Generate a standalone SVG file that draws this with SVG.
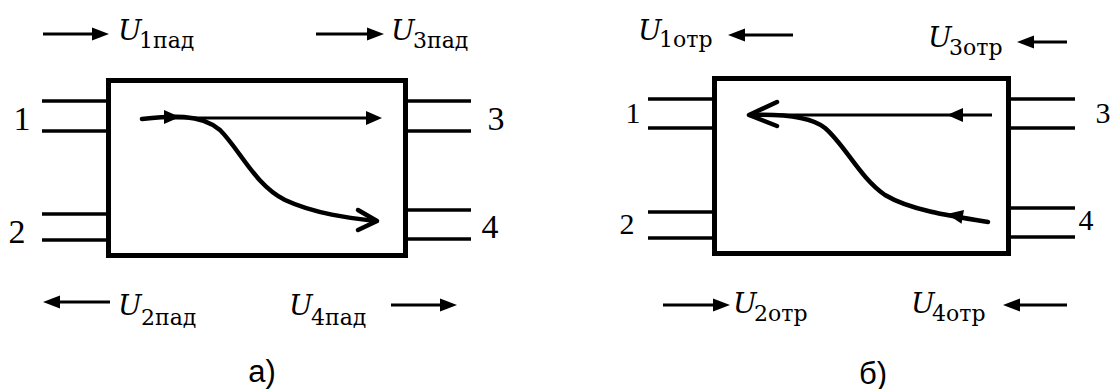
<svg xmlns="http://www.w3.org/2000/svg" xmlns:xlink="http://www.w3.org/1999/xlink" width="1110" height="389" viewBox="0 0 1110 389">
<style>
.box{fill:#fff;stroke:#000;stroke-width:5}
.port{stroke:#000;stroke-width:3.5;fill:none}
.ln{stroke:#000;stroke-width:3.2;fill:none}
.cv{stroke:#000;stroke-width:4.5;fill:none;stroke-linecap:round;stroke-linejoin:round}
.chev{stroke:#000;stroke-width:4.5;fill:none;stroke-linecap:round;stroke-linejoin:round}
.num{font-family:'Liberation Serif',serif;fill:#000;text-anchor:middle}
.u{font-family:'DejaVu Serif',serif;font-style:italic;font-size:28px;fill:#000}
.sub{font-family:'DejaVu Serif',serif;font-style:normal;font-size:22px;fill:#000}
.cap{font-family:'Liberation Sans',sans-serif;font-size:31px;fill:#000;text-anchor:middle}
</style>
<defs>
<path id="ah" d="M0,0 L-17,-6.5 L-17,6.5 Z" fill="#000"/>
<path id="ahs" d="M0,0 L-16,-7 L-16,7 Z" fill="#000"/>
</defs>

<g id="panel-a">
<g id="a-box">
<rect class="box" x="108.5" y="80.5" width="297" height="175"/>
</g>
<g id="a-port1">
<line class="port" x1="42" y1="101" x2="108" y2="101"/>
<line class="port" x1="42" y1="131" x2="108" y2="131"/>
<text class="num" font-family="Liberation Serif, serif" x="22" y="130" font-size="34">1</text>
</g>
<g id="a-port2">
<line class="port" x1="42" y1="214" x2="108" y2="214"/>
<line class="port" x1="42" y1="240" x2="108" y2="240"/>
<text class="num" font-family="Liberation Serif, serif" x="17" y="243" font-size="34">2</text>
</g>
<g id="a-port3">
<line class="port" x1="406" y1="101" x2="471" y2="101"/>
<line class="port" x1="406" y1="131" x2="471" y2="131"/>
<text class="num" font-family="Liberation Serif, serif" x="496" y="130" font-size="34">3</text>
</g>
<g id="a-port4">
<line class="port" x1="406" y1="210" x2="471" y2="210"/>
<line class="port" x1="406" y1="239" x2="471" y2="239"/>
<text class="num" font-family="Liberation Serif, serif" x="490" y="238" font-size="34">4</text>
</g>
<g id="a-U1">
<text class="u" font-family="DejaVu Serif, serif" x="118" y="40">U</text><text class="sub" font-family="DejaVu Serif, serif" x="139" y="48">1пад</text>
</g>
<g id="a-U3">
<text class="u" font-family="DejaVu Serif, serif" x="391" y="40">U</text><text class="sub" font-family="DejaVu Serif, serif" x="413" y="48">3пад</text>
</g>
<g id="a-U2">
<text class="u" font-family="DejaVu Serif, serif" x="118" y="315">U</text><text class="sub" font-family="DejaVu Serif, serif" x="141" y="325">2пад</text>
</g>
<g id="a-U4">
<text class="u" font-family="DejaVu Serif, serif" x="289" y="315">U</text><text class="sub" font-family="DejaVu Serif, serif" x="311" y="325">4пад</text>
</g>
<text class="cap" font-family="Liberation Sans, sans-serif" x="262" y="382">а)</text>
</g>

<g id="panel-b">
<g id="b-box">
<rect class="box" x="714.5" y="78.5" width="294" height="175"/>
</g>
<g id="b-port1">
<line class="port" x1="648" y1="99" x2="714" y2="99"/>
<line class="port" x1="648" y1="128" x2="714" y2="128"/>
<text class="num" font-family="Liberation Serif, serif" x="633" y="123" font-size="30">1</text>
</g>
<g id="b-port2">
<line class="port" x1="648" y1="212" x2="714" y2="212"/>
<line class="port" x1="648" y1="238" x2="714" y2="238"/>
<text class="num" font-family="Liberation Serif, serif" x="627" y="234" font-size="30">2</text>
</g>
<g id="b-port3">
<line class="port" x1="1009" y1="99" x2="1075" y2="99"/>
<line class="port" x1="1009" y1="128" x2="1075" y2="128"/>
<text class="num" font-family="Liberation Serif, serif" x="1103" y="123" font-size="30">3</text>
</g>
<g id="b-port4">
<line class="port" x1="1009" y1="208" x2="1075" y2="208"/>
<line class="port" x1="1009" y1="237" x2="1075" y2="237"/>
<text class="num" font-family="Liberation Serif, serif" x="1086" y="230" font-size="30">4</text>
</g>
<g id="b-U1">
<text class="u" font-family="DejaVu Serif, serif" x="638" y="40">U</text><text class="sub" font-family="DejaVu Serif, serif" x="659" y="47">1отр</text>
</g>
<g id="b-U3">
<text class="u" font-family="DejaVu Serif, serif" x="928" y="47">U</text><text class="sub" font-family="DejaVu Serif, serif" x="949" y="55">3отр</text>
</g>
<g id="b-U2">
<text class="u" font-family="DejaVu Serif, serif" x="733" y="313">U</text><text class="sub" font-family="DejaVu Serif, serif" x="754" y="321">2отр</text>
</g>
<g id="b-U4">
<text class="u" font-family="DejaVu Serif, serif" x="911" y="313">U</text><text class="sub" font-family="DejaVu Serif, serif" x="932" y="321">4отр</text>
</g>
<text class="cap" font-family="Liberation Sans, sans-serif" x="873" y="384">б)</text>
</g>

<g id="connectors">
<line class="ln" x1="43" y1="34" x2="95" y2="34"/><use xlink:href="#ah" transform="translate(109,34)"/>
<line class="ln" x1="316" y1="34" x2="370" y2="34"/><use xlink:href="#ah" transform="translate(384,34)"/>
<line class="ln" x1="57" y1="302" x2="110" y2="302"/><use xlink:href="#ah" transform="translate(43,302) rotate(180)"/>
<line class="ln" x1="391" y1="305" x2="443" y2="305"/><use xlink:href="#ah" transform="translate(457,305)"/>
<line class="ln" x1="170" y1="118" x2="368" y2="118"/><use xlink:href="#ahs" transform="translate(382,118)"/>
<path class="cv" d="M142,119 C170,116 200,113 220,130 C240,150 255,185 285,200 C315,214 350,218 376,221"/>
<use xlink:href="#ahs" transform="translate(180,117)"/>
<polyline class="chev" points="358,210 377,221 358,230"/>
<line class="ln" x1="742" y1="35" x2="793" y2="35"/><use xlink:href="#ah" transform="translate(728,35) rotate(180)"/>
<line class="ln" x1="1031" y1="42" x2="1067" y2="42"/><use xlink:href="#ah" transform="translate(1017,42) rotate(180)"/>
<line class="ln" x1="663" y1="305" x2="716" y2="305"/><use xlink:href="#ah" transform="translate(730,305)"/>
<line class="ln" x1="1017" y1="305" x2="1067" y2="305"/><use xlink:href="#ah" transform="translate(1003,305) rotate(180)"/>
<line class="ln" x1="750" y1="115" x2="992" y2="115"/><use xlink:href="#ahs" transform="translate(947,115) rotate(180)"/>
<path class="cv" d="M988,222 C950,216 910,210 885,195 C860,178 845,145 825,128 C810,116 780,114 750,115"/>
<use xlink:href="#ahs" transform="translate(947,214) rotate(190)"/>
<polyline class="chev" points="777,102 749,115 777,126"/>
</g>
</svg>
